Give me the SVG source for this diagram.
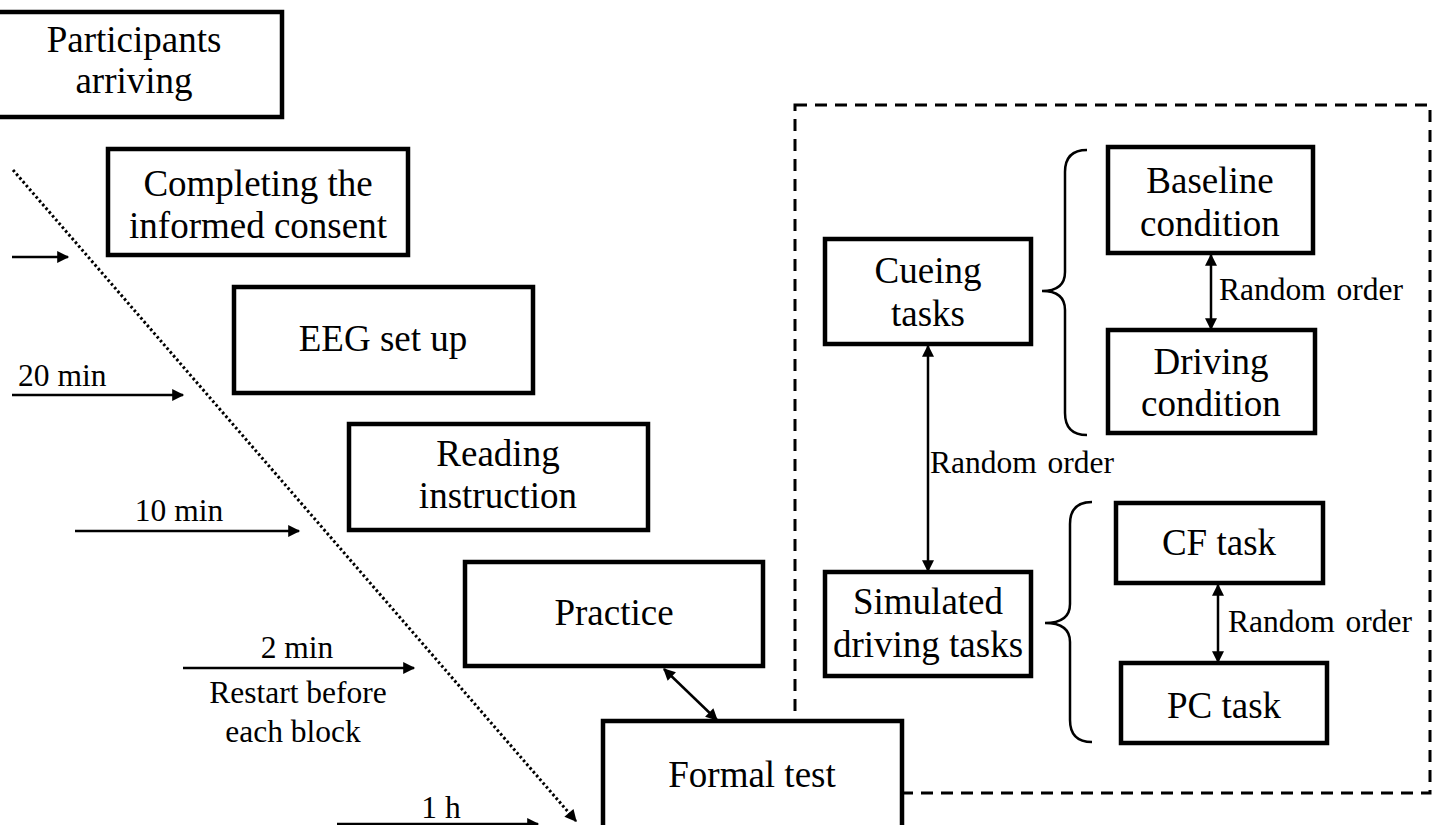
<svg xmlns="http://www.w3.org/2000/svg" width="1438" height="825" viewBox="0 0 1438 825">
<defs>
<style>
.box{fill:#fff;stroke:#000;stroke-width:4.5}
.t{font-family:"Liberation Serif","Times New Roman",serif;font-size:37px;fill:#000;text-anchor:middle}
.l{font-family:"Liberation Serif","Times New Roman",serif;font-size:31.5px;fill:#000}
.ro{word-spacing:3px}
.ar{stroke:#000;stroke-width:2.5;fill:none}
.dot{stroke:#000;stroke-width:3;fill:none;stroke-dasharray:2.5 2.5}
.dash{stroke:#000;stroke-width:3;fill:none;stroke-dasharray:12 8}
.brace{stroke:#000;stroke-width:2.5;fill:none}
</style>
<marker id="ah" viewBox="0 0 10 10" refX="9" refY="5" markerUnits="userSpaceOnUse" markerWidth="14" markerHeight="12" orient="auto-start-reverse">
<path d="M0,0 L10,5 L0,10 z" fill="#000"/>
</marker>
</defs>
<rect width="1438" height="825" fill="#fff"/>

<g id="frame">
<rect x="795" y="105" width="635" height="688" class="dash"/>
</g>

<g id="connectors">
<line x1="13" y1="170" x2="576" y2="821" class="dot" marker-end="url(#ah)"/>
<line x1="12" y1="257" x2="68" y2="257" class="ar" marker-end="url(#ah)"/>
<line x1="12" y1="395" x2="183" y2="395" class="ar" marker-end="url(#ah)"/>
<line x1="75" y1="531" x2="299" y2="531" class="ar" marker-end="url(#ah)"/>
<line x1="183" y1="668" x2="414" y2="668" class="ar" marker-end="url(#ah)"/>
<line x1="337" y1="824" x2="538" y2="824" class="ar" marker-end="url(#ah)"/>
<line x1="664" y1="669" x2="717" y2="720" class="ar" marker-start="url(#ah)" marker-end="url(#ah)"/>
<line x1="928" y1="346" x2="928" y2="571" class="ar" marker-start="url(#ah)" marker-end="url(#ah)"/>
<line x1="1211" y1="255" x2="1211" y2="329" class="ar" marker-start="url(#ah)" marker-end="url(#ah)"/>
<line x1="1218" y1="585" x2="1218" y2="662" class="ar" marker-start="url(#ah)" marker-end="url(#ah)"/>
<path class="brace" d="M1087,150 Q1065,150 1065,172 L1065,272 Q1065,291 1042,291 Q1065,291 1065,310 L1065,413 Q1065,435 1087,435"/>
<path class="brace" d="M1092,502 Q1070,502 1070,524 L1070,604 Q1070,623 1045,623 Q1070,623 1070,642 L1070,720 Q1070,742 1092,742"/>
<text class="l" x="18" y="386">20 min</text>
<text class="l" x="179" y="521" text-anchor="middle">10 min</text>
<text class="l" x="297" y="658" text-anchor="middle">2 min</text>
<text class="l" x="298" y="703" text-anchor="middle">Restart before</text>
<text class="l" x="293" y="742" text-anchor="middle">each block</text>
<text class="l" x="441" y="818" text-anchor="middle">1 h</text>
<text class="l ro" x="930" y="473">Random order</text>
<text class="l ro" x="1219" y="300">Random order</text>
<text class="l ro" x="1228" y="632">Random order</text>
</g>

<g id="participants">
<rect class="box" x="-18" y="12" width="300" height="105"/>
<text class="t" x="134" y="52">Participants</text>
<text class="t" x="134" y="93">arriving</text>
</g>
<g id="consent">
<rect class="box" x="108" y="149" width="300" height="106"/>
<text class="t" x="258" y="196">Completing the</text>
<text class="t" x="258" y="238">informed consent</text>
</g>
<g id="eeg">
<rect class="box" x="234" y="287" width="299" height="106"/>
<text class="t" x="383" y="351">EEG set up</text>
</g>
<g id="reading">
<rect class="box" x="349" y="424" width="299" height="106"/>
<text class="t" x="498" y="466">Reading</text>
<text class="t" x="498" y="508">instruction</text>
</g>
<g id="practice">
<rect class="box" x="465" y="562" width="298" height="104"/>
<text class="t" x="614" y="625">Practice</text>
</g>
<g id="formal">
<rect class="box" x="603" y="721" width="299" height="112"/>
<text class="t" x="752" y="787">Formal test</text>
</g>
<g id="cueing">
<rect class="box" x="825" y="239" width="206" height="105"/>
<text class="t" x="928" y="283">Cueing</text>
<text class="t" x="928" y="326">tasks</text>
</g>
<g id="simulated">
<rect class="box" x="825" y="572" width="206" height="104"/>
<text class="t" x="928" y="614">Simulated</text>
<text class="t" x="928" y="657">driving tasks</text>
</g>
<g id="baseline">
<rect class="box" x="1108" y="147" width="205" height="106"/>
<text class="t" x="1210" y="193">Baseline</text>
<text class="t" x="1210" y="236">condition</text>
</g>
<g id="driving">
<rect class="box" x="1108" y="330" width="207" height="103"/>
<text class="t" x="1211" y="374">Driving</text>
<text class="t" x="1211" y="416">condition</text>
</g>
<g id="cf">
<rect class="box" x="1116" y="503" width="207" height="80"/>
<text class="t" x="1219" y="555">CF task</text>
</g>
<g id="pc">
<rect class="box" x="1121" y="663" width="206" height="80"/>
<text class="t" x="1224" y="718">PC task</text>
</g>
</svg>
